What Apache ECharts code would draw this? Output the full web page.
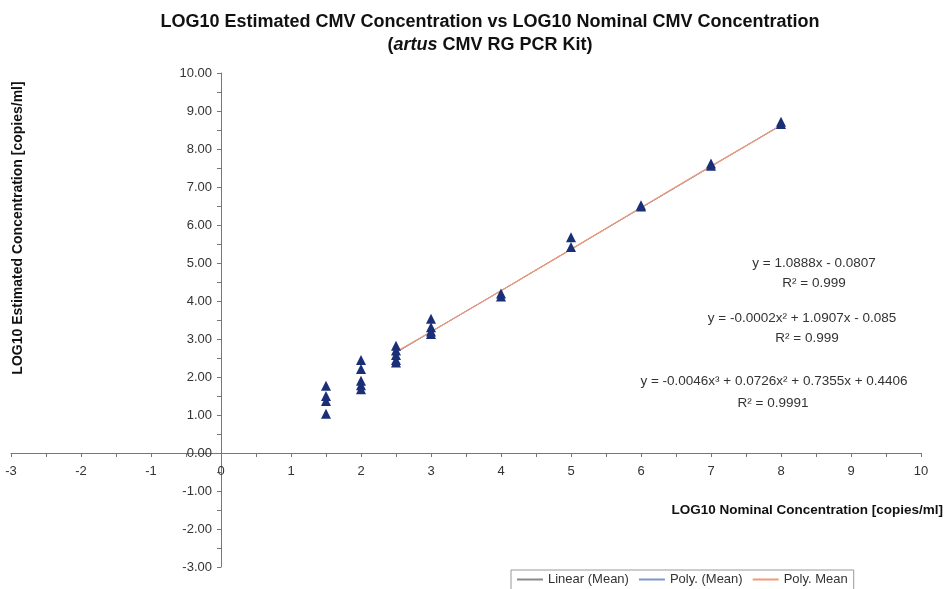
<!DOCTYPE html>
<html>
<head>
<meta charset="utf-8">
<script src="https://cdn.jsdelivr.net/npm/echarts@6/dist/echarts.min.js"></script>
<style>
html,body{margin:0;padding:0;background:#fff;}
#chart{width:947px;height:589px;}
</style>
</head>
<body>
<div id="chart"></div>
<script>
// nominal log10 concentrations and the estimated replicates
let nominal = [1.5, 2, 2.5, 3, 4, 5, 6, 7, 8];
let replicates = [
    [1.77, 1.50, 1.37, 1.03],
    [2.45, 2.21, 1.90, 1.78, 1.68],
    [2.82, 2.70, 2.58, 2.45, 2.38],
    [3.53, 3.31, 3.20, 3.13],
    [4.20, 4.12],
    [5.68, 5.42],
    [6.52, 6.49],
    [7.62, 7.56],
    [8.72, 8.66]
];

// trend lines (fitted on the means, x = 2.5 .. 8)
let trendX = [2.5, 3, 4, 5, 6, 7, 8];
let linearMean = [2.64, 3.19, 4.27, 5.36, 6.45, 7.54, 8.63];
let polyMean2 = [2.64, 3.19, 4.27, 5.36, 6.45, 7.54, 8.63];
let polyMean3 = [2.66, 3.19, 4.27, 5.36, 6.46, 7.55, 8.62];

let yTicks = [-3, -2, -1, 0, 1, 2, 3, 4, 5, 6, 7, 8, 9, 10];
let xTicks = [-3, -2, -1, 0, 1, 2, 3, 4, 5, 6, 7, 8, 9, 10];

let equations = [
    "y = 1.0888x - 0.0807", "R² = 0.999",
    "y = -0.0002x² + 1.0907x - 0.085", "R² = 0.999",
    "y = -0.0046x³ + 0.0726x² + 0.7355x + 0.4406", "R² = 0.9991"
];

let scatterData = [];
nominal.forEach((x, i) => {
    replicates[i].forEach(v => scatterData.push([x, v]));
});
let pairs = (xs, ys) => xs.map((x, i) => [x, ys[i]]);

let myChar = echarts.init(document.getElementById("chart"));
let font = "Liberation Sans, Arial, sans-serif";
let eqPos = [[814, 263], [814, 283], [802, 318], [807, 338], [774, 381], [773, 403]];

// grid in pixels; axes are shifted onto the zero lines with offset
let gLeft = 11, gRight = 26, gTop = 73, gBottom = 22;
let plotW = 947 - gLeft - gRight, plotH = 589 - gTop - gBottom;
let xOffset = -Math.round(plotH * 3 / 13);   // y=0 sits 3 units above the bottom
let yOffset = -Math.round(plotW * 3 / 13);   // x=0 sits 3 units right of the left edge

myChar.setOption({
    animation: false,
    textStyle: {fontFamily: font},
    title: {
        text: "{b|LOG10 Estimated CMV Concentration vs LOG10 Nominal CMV Concentration}\n{b|(}{i|artus}{b| CMV RG PCR Kit)}",
        left: 485,
        top: 6,
        textAlign: "center",
        textStyle: {
            rich: {
                b: {fontSize: 18, fontWeight: "bold", color: "#111", fontFamily: font, lineHeight: 23},
                i: {fontSize: 18, fontWeight: "bold", fontStyle: "italic", color: "#111", fontFamily: font, lineHeight: 23}
            }
        }
    },
    grid: {left: gLeft, right: gRight, top: gTop, bottom: gBottom, outerBoundsMode: "none", containLabel: false},
    xAxis: {
        type: "value",
        min: -3, max: 10, interval: 1,
        position: "bottom",
        offset: xOffset,
        axisLine: {onZero: false, lineStyle: {color: "#777", width: 1}},
        axisTick: {show: true, inside: false, length: 4, lineStyle: {color: "#777"}},
        minorTick: {show: true, splitNumber: 2, length: 4, lineStyle: {color: "#777"}},
        splitLine: {show: false},
        axisLabel: {
            color: "#333", fontSize: 13, margin: 12,
            formatter: v => xTicks.indexOf(v) >= 0 ? String(v) : ""
        }
    },
    yAxis: {
        type: "value",
        min: -3, max: 10, interval: 1,
        position: "left",
        offset: yOffset,
        axisLine: {show: true, onZero: false, lineStyle: {color: "#777", width: 1}},
        axisTick: {show: true, length: 4, lineStyle: {color: "#777"}},
        minorTick: {show: true, splitNumber: 2, length: 4, lineStyle: {color: "#777"}},
        splitLine: {show: false},
        axisLabel: {
            color: "#333", fontSize: 13, margin: 9,
            formatter: v => yTicks.indexOf(v) >= 0 ? v.toFixed(2) : ""
        }
    },
    legend: {
        data: ["Linear (Mean)", "Poly. (Mean)", "Poly. Mean"],
        left: 511, top: 570,
        itemWidth: 26, itemHeight: 2, itemGap: 10,
        icon: "rect",
        borderColor: "#999", borderWidth: 1, borderRadius: 0,
        padding: [3, 6, 6, 6],
        textStyle: {color: "#333", fontSize: 13, fontFamily: font}
    },
    graphic: [
        {
            type: "text", x: 18, y: 228, rotation: Math.PI / 2,
            style: {text: "LOG10 Estimated Concentration [copies/ml]", font: "bold 14px " + font,
                fill: "#111", align: "center", verticalAlign: "middle"}
        },
        {
            type: "text", x: 943, y: 510,
            style: {text: "LOG10 Nominal Concentration [copies/ml]", font: "bold 13.5px " + font,
                fill: "#111", align: "right", verticalAlign: "middle"}
        }
    ].concat(equations.map((t, i) => ({
        type: "text", x: eqPos[i][0], y: eqPos[i][1],
        style: {text: t, font: "13.5px " + font, fill: "#333", align: "center", verticalAlign: "middle"}
    }))),
    series: [
        {
            name: "Linear (Mean)", type: "line", data: pairs(trendX, linearMean),
            symbol: "none", lineStyle: {color: "#8a8a8a", width: 1}, itemStyle: {color: "#8a8a8a"}
        },
        {
            name: "Poly. (Mean)", type: "line", data: pairs(trendX, polyMean2),
            symbol: "none", lineStyle: {color: "#7f95cf", width: 1}, itemStyle: {color: "#7f95cf"}
        },
        {
            name: "Poly. Mean", type: "line", data: pairs(trendX, polyMean3),
            symbol: "none", lineStyle: {color: "#ef9a78", width: 1.3}, itemStyle: {color: "#ef9a78"}
        },
        {
            name: "Replicates", type: "scatter", data: scatterData,
            symbol: "triangle", symbolSize: 10,
            itemStyle: {color: "#1b2f78", opacity: 1}, z: 5
        }
    ]
});
</script>
</body>
</html>
